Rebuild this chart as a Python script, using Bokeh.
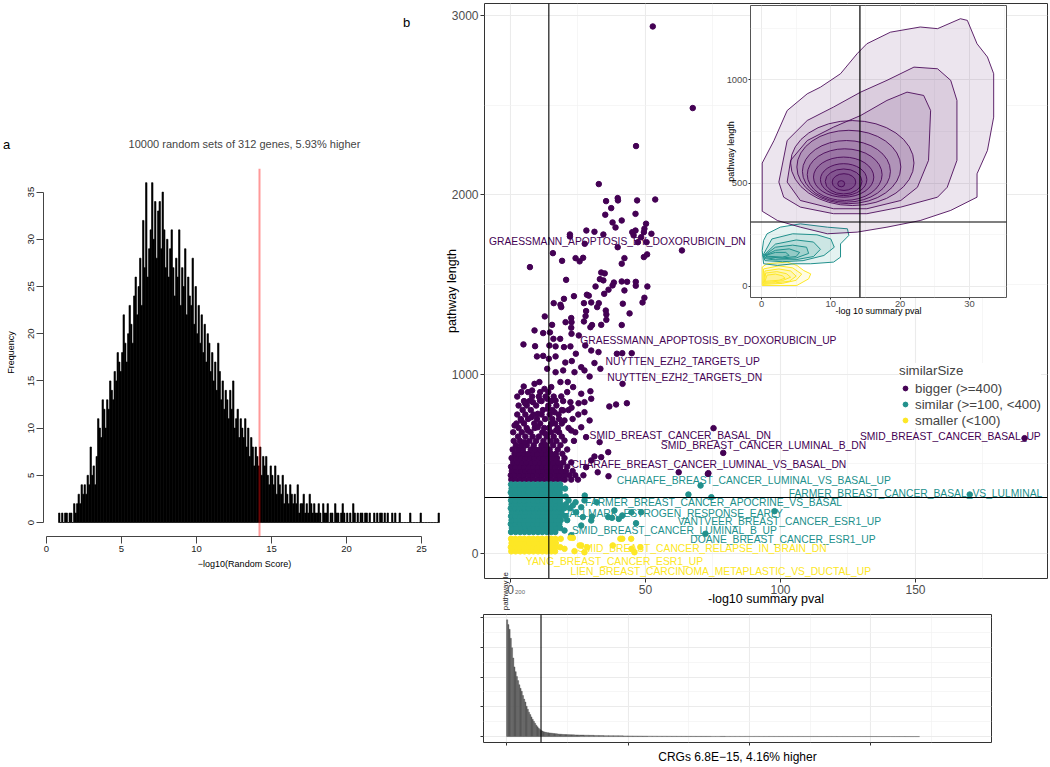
from bokeh.plotting import figure
from bokeh.models import Span, Legend, LegendItem, FixedTicker, Range1d, Div, ColumnDataSource
from bokeh.core.properties import value
from bokeh.embed import file_html
from bokeh.resources import INLINE

FONT = "Liberation Sans"
PURPLE, TEAL, YELLOW = "#440154", "#21908C", "#FDE725"

# ---------------- panel a: random-set histogram ----------------
rand_bin_start = 0.8
rand_bin_width = 0.1
rand_counts = [1, 0,
    1, 0, 1, 1, 0, 1, 1, 0, 2, 1,
    2, 3, 2, 4, 3, 4, 3, 5, 4, 8,
    5, 6, 4, 7, 11, 10, 9, 13, 12, 10,
    13, 12, 15, 14, 13, 16, 15, 18, 17, 16,
    18, 22, 19, 17, 20, 23, 21, 19, 24, 26,
    22, 25, 28, 23, 32, 27, 36, 26, 29, 31,
    36, 30, 34, 28, 33, 34, 29, 35, 31, 27,
    30, 26, 29, 31, 27, 24, 28, 26, 31, 23,
    27, 25, 29, 22, 26, 24, 23, 28, 21, 25,
    20, 23, 19, 22, 18, 21, 17, 20, 19, 16,
    18, 15, 17, 14, 19, 16, 13, 15, 12, 14,
    13, 11, 14, 12, 15, 10, 11, 12, 9, 11,
    10, 9, 11, 8, 10, 7, 9, 8, 6, 8,
    7, 6, 8, 5, 7, 6, 7, 5, 4, 6,
    5, 4, 6, 3, 5, 4, 3, 5, 2, 4,
    3, 2, 4, 3, 2, 3, 2, 4, 1, 2,
    2, 3, 1, 2, 1, 3, 2, 1, 2, 1,
    1, 2, 1, 0, 2, 1, 1, 2, 0, 1,
    1, 0, 2, 1, 1, 0, 1, 2, 1, 0,
    1, 0, 1, 0, 2, 1, 0, 1, 0, 1,
    1, 0, 1, 1, 0, 1, 0, 0, 1, 0,
    1, 0, 1, 1, 0, 1, 0, 1, 0, 0,
    1, 0, 1, 0, 0, 1, 0, 0, 0, 0,
    0, 0, 1, 0, 0, 0, 0, 0, 0, 1,
    0, 0, 0, 0, 0, 0, 0, 0, 0, 0,
    0, 1]
observed_score = 14.2
panel_a_title = "10000 random sets of 312 genes, 5.93% higher"
panel_a_xticks = [0, 5, 10, 15, 20, 25]
panel_a_yticks = [0, 5, 10, 15, 20, 25, 30, 35]

# ---------------- panel b: scatter ----------------
gene_count = 312
purple_sparse_x = [52.7, 67.5, 46.5,
    32.7, 35.4, 39.7, 39.8, 46.9, 53.6, 37.3, 35.1, 46.3, 37.8, 41.2, 38.9, 50.2, 49.6, 49.4, 52.2,
    45.1, 45.6, 46.3, 28.1, 31.1, 34.4, 22.0, 22.0, 27.5, 39.7, 48.4, 47.2, 50.4, 63.5, 15.7, 19.1,
    24.1, 25.6, 26.9, 42.2, 41.2, 49.4, 50.6, 7.2, 33.6, 34.9, 33.1, 34.4, 20.6, 31.5, 38.3, 37.8,
    41.2, 43.2, 46.4, 46.4, 50.7, 36.3, 34.7, 42.2, 19.8, 23.5, 28.3, 29.0, 49.6, 48.9, 16.0, 18.5,
    18.8, 27.2, 29.9, 32.7, 32.1, 41.6, 12.7, 28.0, 35.3, 35.5, 44.1, 22.5, 27.8, 20.4, 27.2, 22.6,
    30.2, 29.6, 33.6, 35.5, 41.2, 15.4, 8.9, 22.5,
    12.1, 14.6, 15.9, 18.4, 22.6, 25.3, 27.7, 29.9, 32.6, 41.4, 4.8, 9.1, 14.4, 16.7, 19.8, 22.2,
    24.2, 9.8, 12.1, 14.2, 16.7, 20.3, 22.7, 26.2, 31.1, 33.3, 39.4, 44.9, 13.6, 16.7, 19.5, 23.7,
    27.4, 29.3, 41.5, 8.9, 10.7, 4.9, 8.0, 12.6, 15.1, 18.5, 21.2, 23.2, 26.2, 29.6, 18.8, 5.4, 8.3,
    10.9, 13.6, 16.7, 22.2, 25.2, 27.4, 36.6, 39.1, 43.1, 29.9, 1.5, 4.0, 7.7, 10.1, 13.8, 16.3,
    19.5, 22.6, 25.1, 27.4, 29.3, 20.0, 15.1, 6.4, 10.1, 13.0, 16.9, 22.5, 26.2, 28.0, 33.0, 75.2,
    33.6, 36.2, 20.0, 5.2, 78.8, 73.3, 190.4, 28.0, 29.9, 31.1, 32.3, 36.3, 62.3, 73.1]
purple_sparse_y = [2939, 2484, 2272,
    2060, 1965, 1982, 1969, 1969, 1974, 1926, 1889, 1894, 1846, 1857, 1818, 1839, 1811, 1792, 1783,
    1792, 1774, 1801, 1801, 1794, 1779, 1779, 1768, 1727, 1708, 1764, 1736, 1736, 1690, 1675, 1632,
    1647, 1629, 1649, 1647, 1616, 1653, 1668, 1597, 1567, 1562, 1530, 1523, 1526, 1489, 1511, 1495,
    1517, 1515, 1515, 1493, 1489, 1471, 1448, 1467, 1420, 1435, 1443, 1438, 1426, 1400, 1396, 1387,
    1374, 1396, 1400, 1396, 1374, 1393, 1322, 1352, 1355, 1333, 1339, 1313, 1324, 1290, 1294, 1290,
    1274, 1262, 1275, 1303, 1274, 1275, 1244, 1259,
    1229, 1233, 1197, 1197, 1225, 1216, 1160, 1132, 1123, 1117, 1166, 1156, 1160, 1155, 1151, 1155,
    1114, 1099, 1102, 1086, 1099, 1065, 1073, 1039, 1062, 1030, 1114, 1117, 1030, 1011, 1021, 1011,
    1021, 987, 946, 946, 956, 931, 909, 918, 928, 956, 956, 928, 891, 905, 876, 838, 844,
    853, 863, 853, 844, 838, 844, 820, 831, 838, 863, 714, 742, 760, 779, 807, 788,
    798, 813, 775, 788, 742, 742, 723, 686, 704, 668, 686, 686, 704, 649, 621, 699,
    537, 565, 630, 621, 561, 448, 643, 481, 519, 541, 453, 431, 453, 444]
purple_rows_y = [412, 436, 460, 484, 508, 532, 556, 580, 604, 628, 652, 676, 700, 725, 750, 775, 800,
                 825, 850, 875, 900]
purple_rows_x = [
    [0.3, 1.9, 3.6, 5.2, 6.9, 8.5, 10.2, 11.8, 13.5, 15.1, 16.8, 18.4, 20.1, 22.5, 25.0],
    [0.1, 1.7, 3.4, 5.0, 6.7, 8.3, 10.0, 11.6, 13.3, 14.9, 16.6, 18.2, 19.9, 21.8, 24.0, 27.0],
    [0.5, 2.1, 3.8, 5.4, 7.1, 8.7, 10.4, 12.0, 13.7, 15.3, 17.0, 18.7, 20.5, 23.0],
    [0.2, 1.8, 3.5, 5.1, 6.8, 8.4, 10.1, 11.7, 13.4, 15.0, 16.7, 18.5, 21.0],
    [1.0, 2.6, 4.3, 5.9, 7.6, 9.2, 10.9, 12.5, 14.2, 15.8, 17.5, 19.5, 22.5],
    [0.4, 2.2, 3.9, 5.6, 7.3, 8.9, 10.6, 12.2, 13.9, 15.6, 17.2, 20.0],
    [1.5, 3.2, 5.0, 6.6, 8.3, 9.9, 11.6, 13.2, 15.0, 16.8, 19.2],
    [0.8, 2.8, 4.6, 7.5, 9.2, 10.8, 12.6, 14.5, 17.5, 21.0],
    [2.0, 4.0, 6.0, 8.6, 11.5, 13.2, 15.8, 18.5],
    [1.2, 3.5, 7.0, 9.5, 12.2, 14.8, 17.0, 23.5],
    [2.8, 5.5, 8.2, 10.5, 13.5, 16.0, 19.0],
    [1.0, 4.2, 7.4, 11.8, 15.0, 18.0, 24.0],
    [3.0, 6.0, 9.0, 12.5, 14.2, 17.5, 21.5],
    [2.2, 5.0, 8.8, 11.0, 16.5, 19.0],
    [3.8, 6.5, 9.8, 12.8, 15.5, 18.0, 23.0],
    [2.5, 5.5, 8.5, 11.5, 14.5, 17.8],
    [4.5, 7.5, 12.0, 15.5, 19.0, 21.5],
    [3.0, 6.0, 9.5, 14.0, 17.0],
    [5.0, 7.0, 11.5, 15.0, 19.5],
    [2.5, 8.0, 10.5, 13.0, 16.0],
    [4.0, 6.5, 11.0, 14.0, 21.0]]
teal_sparse_x = [70.4, 74.4, 170.1, 97.8, 72.2, 65.9, 46.5, 23.1, 24.3, 26.2, 26.8, 27.4, 29.9, 36.2,
                 38.5, 41.4, 44.8, 48.4, 20.0, 22.5, 26.2, 27.5, 24.1, 30.2, 37.6, 40.1, 31.9]
teal_sparse_y = [379, 314, 329, 236, 110, 329, 169, 268, 230, 258, 203, 296, 184, 203,
                 240, 212, 230, 230, 128, 102, 156, 323, 286, 206, 199, 193, 286]
teal_rows_y = [120, 142, 164, 186, 208, 230, 252, 274, 296, 318, 340, 362, 385]
teal_rows_x = [
    [0.2, 1.9, 3.6, 5.2, 6.9, 8.5, 10.2, 11.8, 13.5, 15.1, 16.6],
    [0.5, 2.1, 3.8, 5.5, 7.1, 8.8, 10.4, 12.0, 13.7, 15.3, 17.0, 18.4],
    [0.1, 1.7, 3.4, 5.0, 6.7, 8.3, 10.0, 11.6, 13.2, 14.9, 16.5, 18.1],
    [0.4, 2.0, 3.7, 5.3, 7.0, 8.6, 10.3, 11.9, 13.5, 15.2, 16.8, 18.6, 21.0],
    [0.2, 1.8, 3.5, 5.1, 6.8, 8.4, 10.1, 11.7, 13.4, 15.0, 16.7, 18.3, 20.3],
    [0.5, 2.1, 3.8, 5.4, 7.1, 8.7, 10.4, 12.0, 13.6, 15.3, 16.9, 18.8],
    [0.1, 1.7, 3.3, 5.0, 6.6, 8.3, 9.9, 11.6, 13.2, 14.8, 16.5, 18.2, 19.9, 22.0],
    [0.4, 2.0, 3.6, 5.3, 6.9, 8.6, 10.2, 11.9, 13.5, 15.1, 16.8, 18.5, 20.5],
    [0.2, 1.8, 3.5, 5.1, 6.8, 8.4, 10.1, 11.7, 13.3, 15.0, 16.6, 18.3, 21.5],
    [0.5, 2.1, 3.7, 5.4, 7.0, 8.7, 10.3, 12.0, 13.6, 15.2, 16.9, 18.6, 20.4],
    [0.1, 1.7, 3.4, 5.0, 6.7, 8.3, 10.0, 11.6, 13.3, 14.9, 16.6, 18.2],
    [0.4, 2.0, 3.6, 5.3, 6.9, 8.6, 10.2, 11.9, 13.5, 15.2, 16.8, 18.5, 20.2],
    [0.2, 1.8, 3.5, 5.1, 6.8, 8.4, 10.1, 11.7, 13.4, 15.0, 16.7, 18.4]]
yellow_sparse_x = [23.1, 26.2, 23.7, 20.0, 41.4, 37.9, 27.4, 45.9, 44.8, 44.7, 40.7, 48.1, 25.6, 28.4, 22.2]
yellow_sparse_y = [87, 45, 13, 26, 82, 45, 7, 7, 26, 82, 82, 35, 45, 35, 88]
yellow_rows_y = [12, 35, 58, 82]
yellow_rows_x = [
    [0.3, 1.9, 3.6, 5.2, 6.9, 8.5, 10.2, 11.8, 13.4, 15.1, 16.5],
    [0.1, 1.7, 3.4, 5.0, 6.7, 8.3, 10.0, 11.6, 13.3, 14.9, 16.6, 18.4],
    [0.4, 2.0, 3.7, 5.3, 7.0, 8.6, 10.3, 11.9, 13.5, 15.2, 16.8],
    [0.2, 1.8, 3.5, 5.1, 6.8, 8.4, 10.1, 11.7, 13.4, 15.0, 16.6, 18.6]]

label_text = ["GRAESSMANN_APOPTOSIS_BY_DOXORUBICIN_DN", "GRAESSMANN_APOPTOSIS_BY_DOXORUBICIN_UP",
              "NUYTTEN_EZH2_TARGETS_UP", "NUYTTEN_EZH2_TARGETS_DN", "SMID_BREAST_CANCER_BASAL_DN",
              "SMID_BREAST_CANCER_LUMINAL_B_DN", "SMID_BREAST_CANCER_BASAL_UP",
              "CHARAFE_BREAST_CANCER_LUMINAL_VS_BASAL_DN", "CHARAFE_BREAST_CANCER_LUMINAL_VS_BASAL_UP",
              "FARMER_BREAST_CANCER_BASAL_VS_LULMINAL", "FARMER_BREAST_CANCER_APOCRINE_VS_BASAL",
              "HALLMARK_ESTROGEN_RESPONSE_EARLY", "VANTVEER_BREAST_CANCER_ESR1_UP",
              "SMID_BREAST_CANCER_LUMINAL_B_UP", "DOANE_BREAST_CANCER_ESR1_UP",
              "SMID_BREAST_CANCER_RELAPSE_IN_BRAIN_DN", "YANG_BREAST_CANCER_ESR1_UP",
              "LIEN_BREAST_CARCINOMA_METAPLASTIC_VS_DUCTAL_UP"]
label_x = [39.6, 73.3, 63.8, 64.5, 62.9, 93.7, 162.9, 73.5, 90.1, 150.0, 75.2, 60.0, 99.6, 60.7, 100.9,
           71.0, 38.5, 77.9]
label_y = [1740, 1188, 1071, 982, 658, 602, 652, 496, 407, 335, 284, 223, 178, 128, 78, 28, -45, -100]
label_group = ["bigger"] * 8 + ["similar"] * 7 + ["smaller"] * 3

legend_title = "similarSize"
legend_labels = ["bigger (>=400)", "similar (>=100, <400)", "smaller (<100)"]

# ---------------- inset: 2-D density contours ----------------
purple_contour_x = [
    [0.1, 0.1, 2.3, 5.6, 9.5, 13.8, 18.1, 22.9, 27.3, 31.1, 31.1, 32.6, 33.5, 33.5, 32.6, 31.1, 29.7,
     28.7, 25.4, 22.9, 18.6, 15.2, 13.8, 11.4, 8.5, 6.6, 3.7, 1.8],
    [2.5, 3.2, 5.6, 10.4, 15.2, 20.1, 25.4, 26.8, 28.2, 28.2, 27.3, 25.4, 22.0, 18.1, 14.3, 10.4, 6.6, 3.7],
    [3.7, 5.6, 10.4, 15.2, 20.1, 22.5, 24.1, 24.4, 23.4, 21.0, 18.1, 14.3, 10.4, 6.6, 4.2]]
purple_contour_y = [
    [597, 364, 319, 287, 255, 263, 287, 319, 368, 432, 545, 658, 819, 1029, 1110, 1174, 1287,
     1295, 1247, 1255, 1230, 1174, 1126, 1029, 964, 932, 851, 706],
    [505, 432, 384, 352, 352, 384, 432, 480, 610, 900, 997, 1053, 1061, 997, 940, 868, 803, 706],
    [505, 416, 376, 376, 416, 480, 610, 851, 924, 940, 900, 827, 771, 706, 610]]
purple_ring_x = [13.1, 12.6, 12.25, 12.0, 11.85, 11.85, 11.85, 11.9, 11.5]
purple_ring_y = [597, 578, 557, 541, 529, 517, 508, 505, 497]
purple_ring_w = [17.8, 15.0, 12.7, 10.8, 8.7, 6.7, 5.3, 3.4, 1.0]
purple_ring_h = [411, 355, 298, 250, 194, 154, 121, 81, 30]
teal_contour_x = [
    [0.1, 0.3, 0.8, 2.7, 5.6, 9.5, 12.4, 12.6, 11.4, 11.4, 10.4, 7.1, 4.7, 2.3, 0.3],
    [0.2, 1.5, 4.5, 8.0, 10.0, 10.5, 9.0, 6.0, 3.0, 0.5],
    [0.3, 2.0, 5.0, 7.5, 8.5, 7.5, 5.0, 2.0, 0.4],
    [0.4, 2.0, 4.5, 6.5, 6.8, 5.0, 2.0, 0.5],
    [0.5, 2.0, 4.0, 5.5, 5.0, 3.0, 0.8],
    [0.6, 2.0, 3.5, 4.0, 3.0, 1.0]]
teal_contour_y = [
    [174, 223, 255, 287, 303, 287, 279, 247, 206, 142, 118, 110, 110, 102, 110],
    [150, 230, 255, 250, 230, 190, 150, 125, 120, 125],
    [150, 205, 225, 215, 180, 145, 130, 128, 135],
    [150, 190, 200, 190, 160, 138, 132, 140],
    [150, 175, 182, 165, 145, 138, 143],
    [150, 165, 165, 150, 142, 146]]
yellow_contour_x = [
    [0.1, 0.1, 0.8, 3.7, 5.1, 6.1, 7.1, 6.8, 5.1],
    [0.2, 0.3, 2.5, 4.5, 5.8, 5.0, 3.0],
    [0.3, 0.5, 2.5, 4.2, 5.0, 4.0, 2.0],
    [0.4, 0.6, 2.2, 3.6, 4.2, 3.0, 1.5],
    [0.5, 0.8, 2.0, 3.0, 3.4, 2.5, 1.2]]
yellow_contour_y = [
    [5, 94, 110, 118, 102, 77, 61, 37, 5],
    [10, 85, 100, 90, 60, 30, 15],
    [15, 75, 85, 75, 50, 25, 18],
    [20, 65, 72, 62, 45, 28, 22],
    [25, 55, 60, 52, 40, 30, 27]]

# ---------------- bottom: histogram of summary pval ----------------
crg_bin_left = [i * 0.5 for i in range(60)] + [30 + i * 2 for i in range(70)]
crg_bin_width = [0.5] * 60 + [2] * 70
crg_counts = [19600, 18800, 18000, 16500, 14900, 13200, 11700, 10900, 10100, 9400,
              8700, 8100, 7600, 6900, 6300, 5800, 5100, 4600, 4100, 3700,
              3300, 2900, 2560, 2230, 1900, 1650, 1400, 1200, 1040, 920,
              830, 760, 710, 660, 630, 610, 590, 560, 530, 500,
              480, 460, 430, 410, 400, 380, 360, 350, 345, 335,
              330, 320, 315, 300, 295, 290, 280, 275, 270, 265,
              250, 230, 210, 190, 175, 160, 150, 140, 130, 115,
              105, 95, 90, 80, 75, 70, 65, 60, 55, 50,
              48, 45, 42, 44, 40, 38, 41, 36, 35, 38,
              33, 32, 35, 30, 31, 29, 33, 28, 27, 30,
              26, 25, 28, 24, 23, 25, 22, 21, 24, 20,
              19, 21, 18, 17, 19, 16, 15, 17, 14, 13,
              15, 12, 11, 13, 10, 9, 11, 8, 7, 6]
crg_title = "CRGs 6.8E\u221215, 4.16% higher"
crg_ylabel_clipped = "pathway le"
crg_ytick_clipped = "200"


def expand(rows_y, rows_x):
    xs, ys = [], []
    for yv, xr in zip(rows_y, rows_x):
        xs += xr
        ys += [yv] * len(xr)
    return xs, ys


def place(m, left, top):
    m.styles = {"position": "absolute", "left": f"{left}px", "top": f"{top}px"}


def style_axes(p, tick_size, label_size, tick_color="#4d4d4d"):
    for ax in p.axis:
        ax.major_label_text_font = FONT
        ax.axis_label_text_font = FONT
        ax.major_label_text_font_size = tick_size
        ax.axis_label_text_font_size = label_size
        ax.axis_label_text_font_style = "normal"
        ax.major_label_text_color = tick_color
        ax.axis_label_text_color = "black"
        ax.minor_tick_out = 0
        ax.minor_tick_in = 0
        ax.major_tick_in = 0


# ================= panel a =================
fa = figure(width=453, height=471, x_range=Range1d(-0.2, 26.6), y_range=Range1d(-1.48, 37.5),
            output_backend="svg", toolbar_location=None, min_border_left=43, min_border_right=8,
            min_border_top=53, min_border_bottom=50, title=panel_a_title)
fa.border_fill_alpha = 0
fa.background_fill_alpha = 0
fa.outline_line_color = None
fa.grid.visible = False
fa.title.text_font = FONT
fa.title.text_font_size = "11px"
fa.title.text_font_style = "normal"
fa.title.align = "center"
fa.title.standoff = 38
centers = [rand_bin_start + (i + 0.5) * rand_bin_width for i in range(len(rand_counts))]
fa.vbar(x=centers, width=rand_bin_width, top=rand_counts, bottom=0,
        fill_color="black", line_color="black", line_width=0.6)
fa.add_layout(Span(location=observed_score, dimension="height", line_color="red",
                   line_alpha=0.4, line_width=2))
fa.xaxis.ticker = FixedTicker(ticks=panel_a_xticks)
fa.yaxis.ticker = FixedTicker(ticks=panel_a_yticks)
fa.xaxis.bounds = (0, 25)
fa.yaxis.bounds = (0, 35)
fa.xaxis.axis_label = "\u2212log10(Random Score)"
fa.yaxis.axis_label = "Frequency"
style_axes(fa, "9.5px", "9px", tick_color="#222222")
for ax in fa.axis:
    ax.major_tick_out = 7
    ax.axis_line_color = "#444444"
    ax.major_tick_line_color = "#444444"
    ax.major_label_standoff = 2
    ax.axis_label_standoff = 4
fa.yaxis.axis_label_standoff = 10
fa.yaxis.major_label_orientation = "vertical"
place(fa, 0, 115)

# ================= panel b main =================
fm = figure(width=655, height=614, x_range=Range1d(-9.63, 198.9), y_range=Range1d(-139.4, 3067),
            output_backend="svg", toolbar_location=None, min_border_left=91, min_border_right=1,
            min_border_top=3, min_border_bottom=36)
fm.border_fill_alpha = 0
fm.background_fill_color = "white"
fm.outline_line_color = "#333333"
fm.outline_line_width = 1
fm.xaxis.ticker = FixedTicker(ticks=[0, 50, 100, 150], minor_ticks=[25, 75, 125, 175])
fm.yaxis.ticker = FixedTicker(ticks=[0, 1000, 2000, 3000], minor_ticks=[500, 1500, 2500])
for g in fm.grid:
    g.grid_line_color = "#ebebeb"
    g.grid_line_width = 1.1
    g.minor_grid_line_color = "#f2f2f2"
    g.minor_grid_line_width = 0.7
fm.xaxis.axis_label = "-log10 summary pval"
fm.yaxis.axis_label = "pathway length"
style_axes(fm, "12px", "12.5px")
for ax in fm.axis:
    ax.axis_line_color = None
    ax.major_tick_out = 4
    ax.major_tick_line_color = "#333333"
    ax.major_label_standoff = 2
fm.xaxis.axis_label_standoff = -5
fm.yaxis.axis_label_standoff = -10

label_colors = {"bigger": PURPLE, "similar": TEAL, "smaller": YELLOW}
lab_src = ColumnDataSource(dict(x=label_x, y=label_y, text=label_text,
                                color=[label_colors[g] for g in label_group]))
fm.text(x="x", y="y", text="text", text_color="color", source=lab_src, text_align="center",
        text_baseline="middle", text_font=value(FONT), text_font_size=value("10.3px"))

px_, py_ = expand(purple_rows_y, purple_rows_x)
tx_, ty_ = expand(teal_rows_y, teal_rows_x)
yx_, yy_ = expand(yellow_rows_y, yellow_rows_x)
r_big = fm.scatter(x=px_ + purple_sparse_x, y=py_ + purple_sparse_y, size=5.5,
                   fill_color=PURPLE, line_color=PURPLE)
r_sim = fm.scatter(x=tx_ + teal_sparse_x, y=ty_ + teal_sparse_y, size=5.5,
                   fill_color=TEAL, line_color=TEAL)
r_sml = fm.scatter(x=yx_ + yellow_sparse_x, y=yy_ + yellow_sparse_y, size=5.5,
                   fill_color=YELLOW, line_color=YELLOW)
fm.add_layout(Span(location=observed_score, dimension="height", line_color="black", line_width=1.1))
fm.add_layout(Span(location=gene_count, dimension="width", line_color="black", line_width=1.1))

leg = Legend(items=[LegendItem(label=legend_labels[0], renderers=[r_big]),
                    LegendItem(label=legend_labels[1], renderers=[r_sim]),
                    LegendItem(label=legend_labels[2], renderers=[r_sml])],
             title=legend_title, location=(415, 150))
leg.title_text_font = FONT
leg.title_text_font_size = "13.3px"
leg.title_text_font_style = "normal"
leg.label_text_font = FONT
leg.label_text_font_size = "13.3px"
leg.padding = 4
leg.spacing = 0
leg.margin = 0
leg.label_height = 16
leg.glyph_height = 16
leg.glyph_width = 12
leg.label_standoff = 4
leg.title_standoff = 2
leg.border_line_color = None
leg.background_fill_alpha = 1
fm.add_layout(leg)
place(fm, 393, 0)

# ================= inset =================
fi = figure(width=301, height=324, x_range=Range1d(-1.59, 35.35), y_range=Range1d(-53.2, 1359),
            output_backend="svg", toolbar_location=None, min_border_left=40, min_border_right=5,
            min_border_top=5, min_border_bottom=27)
fi.border_fill_alpha = 0
fi.background_fill_color = "white"
fi.outline_line_color = "#555555"
fi.xaxis.ticker = FixedTicker(ticks=[0, 10, 20, 30], minor_ticks=[5, 15, 25, 35])
fi.yaxis.ticker = FixedTicker(ticks=[0, 500, 1000], minor_ticks=[250, 750, 1250])
for g in fi.grid:
    g.grid_line_color = "#ebebeb"
    g.grid_line_width = 1
    g.minor_grid_line_color = "#f2f2f2"
    g.minor_grid_line_width = 0.6
fi.xaxis.axis_label = "-log 10 summary pval"
fi.yaxis.axis_label = "pathway length"
style_axes(fi, "9.4px", "9px")
for ax in fi.axis:
    ax.axis_line_color = None
    ax.major_tick_out = 2
    ax.major_tick_line_color = "#333333"
    ax.major_label_standoff = 1
fi.xaxis.axis_label_standoff = -4
fi.yaxis.axis_label_standoff = -12
fi.patches(xs=yellow_contour_x, ys=yellow_contour_y, fill_color=YELLOW, fill_alpha=0.12,
           line_color=YELLOW, line_width=1)
fi.patches(xs=teal_contour_x, ys=teal_contour_y, fill_color=TEAL, fill_alpha=0.12,
           line_color=TEAL, line_width=1)
fi.patches(xs=purple_contour_x, ys=purple_contour_y, fill_color=PURPLE, fill_alpha=0.1,
           line_color=PURPLE, line_alpha=0.85, line_width=1)
fi.ellipse(x=purple_ring_x, y=purple_ring_y, width=purple_ring_w, height=purple_ring_h,
           fill_color=PURPLE, fill_alpha=0.1, line_color=PURPLE, line_alpha=0.85, line_width=1)
fi.add_layout(Span(location=observed_score, dimension="height", line_color="black", line_width=1.2))
fi.add_layout(Span(location=gene_count, dimension="width", line_color="black", line_width=1.2))
place(fi, 710, 0)

# ================= bottom histogram =================
fb = figure(width=548, height=158, x_range=Range1d(-9.47, 199.6), y_range=Range1d(-992, 20496),
            output_backend="svg", toolbar_location=None, min_border_left=35, min_border_right=5,
            min_border_top=6, min_border_bottom=22)
fb.border_fill_alpha = 0
fb.background_fill_color = "white"
fb.outline_line_color = "#333333"
fb.xaxis.ticker = FixedTicker(ticks=[0, 50, 100, 150], minor_ticks=[25, 75, 125, 175])
fb.yaxis.ticker = FixedTicker(ticks=[0, 5000, 10000, 15000, 20000],
                              minor_ticks=[2500, 7500, 12500, 17500])
for g in fb.grid:
    g.grid_line_color = "#ebebeb"
    g.grid_line_width = 1.1
    g.minor_grid_line_color = "#f2f2f2"
    g.minor_grid_line_width = 0.7
crg_right = [l + w for l, w in zip(crg_bin_left, crg_bin_width)]
fb.quad(left=crg_bin_left, right=crg_right, top=crg_counts, bottom=0,
        fill_color="#595959", line_color="#595959", line_width=0.4)
fb.add_layout(Span(location=observed_score, dimension="height", line_color="black", line_width=1.1))
fb.xaxis.axis_label = crg_title
style_axes(fb, "1px", "12px")
for ax in fb.axis:
    ax.axis_line_color = None
    ax.major_tick_out = 3
    ax.major_tick_line_color = "#333333"
    ax.major_label_standoff = 0
    ax.major_label_text_color = None
fb.xaxis.axis_label_standoff = 4
place(fb, 448, 608)

# ================= panel letters and clipped texts =================
div_a = Div(text=f'<span style="font-family:{FONT};font-size:13px">a</span>', width=14, height=18)
div_b = Div(text=f'<span style="font-family:{FONT};font-size:13px">b</span>', width=14, height=18)
place(div_a, -2, 131)
place(div_b, 398, 9)
div_ylab = Div(text=(f'<span style="display:inline-block;font-family:{FONT};font-size:8px;'
                     f'color:#222222;writing-mode:vertical-rl;transform:rotate(180deg);'
                     f'line-height:9px">{crg_ylabel_clipped}</span>'), width=10, height=42)
div_ytick = Div(text=(f'<span style="font-family:{FONT};font-size:6px;color:#666666;'
                      f'line-height:7px">{crg_ytick_clipped}</span>'), width=14, height=8)
place(div_ylab, 496, 567)
place(div_ytick, 510, 577)

open("out.html", "w").write(file_html([fa, fm, fi, fb, div_a, div_b, div_ylab, div_ytick], INLINE))
